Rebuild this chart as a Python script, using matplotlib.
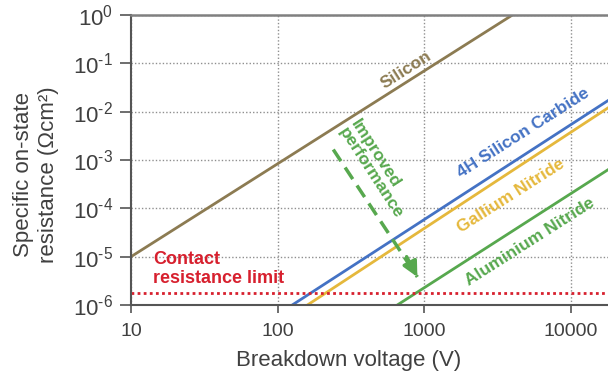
import numpy as np
import matplotlib
matplotlib.use("Agg")
import matplotlib.pyplot as plt

plt.rcParams['font.family'] = ['Liberation Sans', 'DejaVu Sans']
plt.rcParams['mathtext.fontset'] = 'custom'
plt.rcParams['mathtext.rm'] = 'Liberation Sans'
plt.rcParams['mathtext.it'] = 'Liberation Sans'

# Material limit lines, (breakdown voltage, specific on-resistance) end points
si_v = [10, 4000]
si_r = [1e-5, 1.0]
sic_v = [126, 18000]
sic_r = [1e-6, 1.7e-2]
gan_v = [160, 18000]
gan_r = [1e-6, 1.2e-2]
aln_v = [657, 18000]
aln_r = [1e-6, 6.3e-4]

contact_limit = 1.8e-6

# arrow showing the direction of better devices
arrow_v = [240, 900]
arrow_r = [1.65e-3, 3.8e-6]

x_ticks = [10, 100, 1000, 10000]
x_ticklabels = ['10', '100', '1000', '10000']
y_ticks = [1e-6, 1e-5, 1e-4, 1e-3, 1e-2, 1e-1, 1e0]
y_exps = ['-6', '-5', '-4', '-3', '-2', '-1', '0']

c_si = '#8c7b52'
c_sic = '#4472c4'
c_gan = '#e5b83c'
c_aln = '#57a84e'
c_red = '#d7202e'
c_text = '#404040'

fig = plt.figure(figsize=(6.08, 3.77), dpi=100)
ax = fig.add_axes([0.2155, 0.191, 0.7845, 0.769])
ax.set_xscale('log')
ax.set_yscale('log')
ax.set_xlim(10, 18000)
ax.set_ylim(1e-6, 1)

lw = 2.0
ax.plot(si_v, si_r, color=c_si, lw=lw, solid_capstyle='butt')
ax.plot(sic_v, sic_r, color=c_sic, lw=lw)
ax.plot(gan_v, gan_r, color=c_gan, lw=lw)
ax.plot(aln_v, aln_r, color=c_aln, lw=lw)
ax.axhline(contact_limit, color=c_red, lw=2.0, ls=(0, (1, 1.2)))

# dashed shaft, then a solid head on the last bit
ax.plot(arrow_v, arrow_r, color=c_aln, lw=2.5, ls=(0, (4, 2.2)))
ax.annotate('', xy=(arrow_v[1], arrow_r[1]), xytext=(760, 1.0e-5),
            arrowprops=dict(arrowstyle='-|>,head_length=0.9,head_width=0.45',
                            color=c_aln, lw=2.5, shrinkA=0, shrinkB=0))

fs = 12.5
ax.text(760, 0.073, 'Silicon', color=c_si, fontsize=fs, fontweight='bold',
        rotation=32.5, ha='center', va='center')
ax.text(4775, 3.65e-3, '4H Silicon Carbide', color=c_sic, fontsize=fs,
        fontweight='bold', rotation=32.5, ha='center', va='center')
ax.text(3900, 1.82e-4, 'Gallium Nitride', color=c_gan, fontsize=fs,
        fontweight='bold', rotation=32.5, ha='center', va='center')
ax.text(5250, 2.04e-5, 'Aluminium Nitride', color=c_aln, fontsize=fs,
        fontweight='bold', rotation=32.5, ha='center', va='center')
ax.text(475, 6.5e-4, 'Improved\nperformance', color=c_aln, fontsize=fs,
        fontweight='bold', rotation=-57, ha='center', va='center',
        multialignment='left', linespacing=1.0, rotation_mode='anchor')
ax.text(14.1, 5.65e-6, 'Contact\nresistance limit', color=c_red, fontsize=13,
        fontweight='bold', ha='left', va='center', linespacing=1.15)

ax.set_xticks(x_ticks)
ax.set_xticklabels(x_ticklabels)
ax.set_yticks(y_ticks)
ax.set_yticklabels(['10$^{\\text{%s}}$' % e for e in y_exps])
ax.minorticks_off()
ax.tick_params(axis='x', length=6, width=1.2, color='#555555', pad=7,
               labelsize=14, labelcolor=c_text)
ax.tick_params(axis='y', length=8, width=1.2, color='#555555', pad=5,
               labelsize=16, labelcolor=c_text)

ax.grid(True, which='major', color='#8f8f8f', ls=(0, (1, 1.5)), lw=1.0)
ax.set_axisbelow(True)

for side in ['left', 'bottom']:
    ax.spines[side].set_color('#555555')
    ax.spines[side].set_linewidth(1.5)
ax.spines['top'].set_color('#808080')
ax.spines['top'].set_linewidth(1.8)
ax.spines['right'].set_visible(False)

ax.set_xlabel('Breakdown voltage (V)', fontsize=16, color=c_text)
ax.xaxis.set_label_coords(0.457, -0.155)
ax.set_ylabel('Specific on-state\nresistance (Ωcm²)', fontsize=16,
              color=c_text, linespacing=1.2)
ax.yaxis.set_label_coords(-0.152, 0.45)

fig.savefig('out.png', dpi=100)
